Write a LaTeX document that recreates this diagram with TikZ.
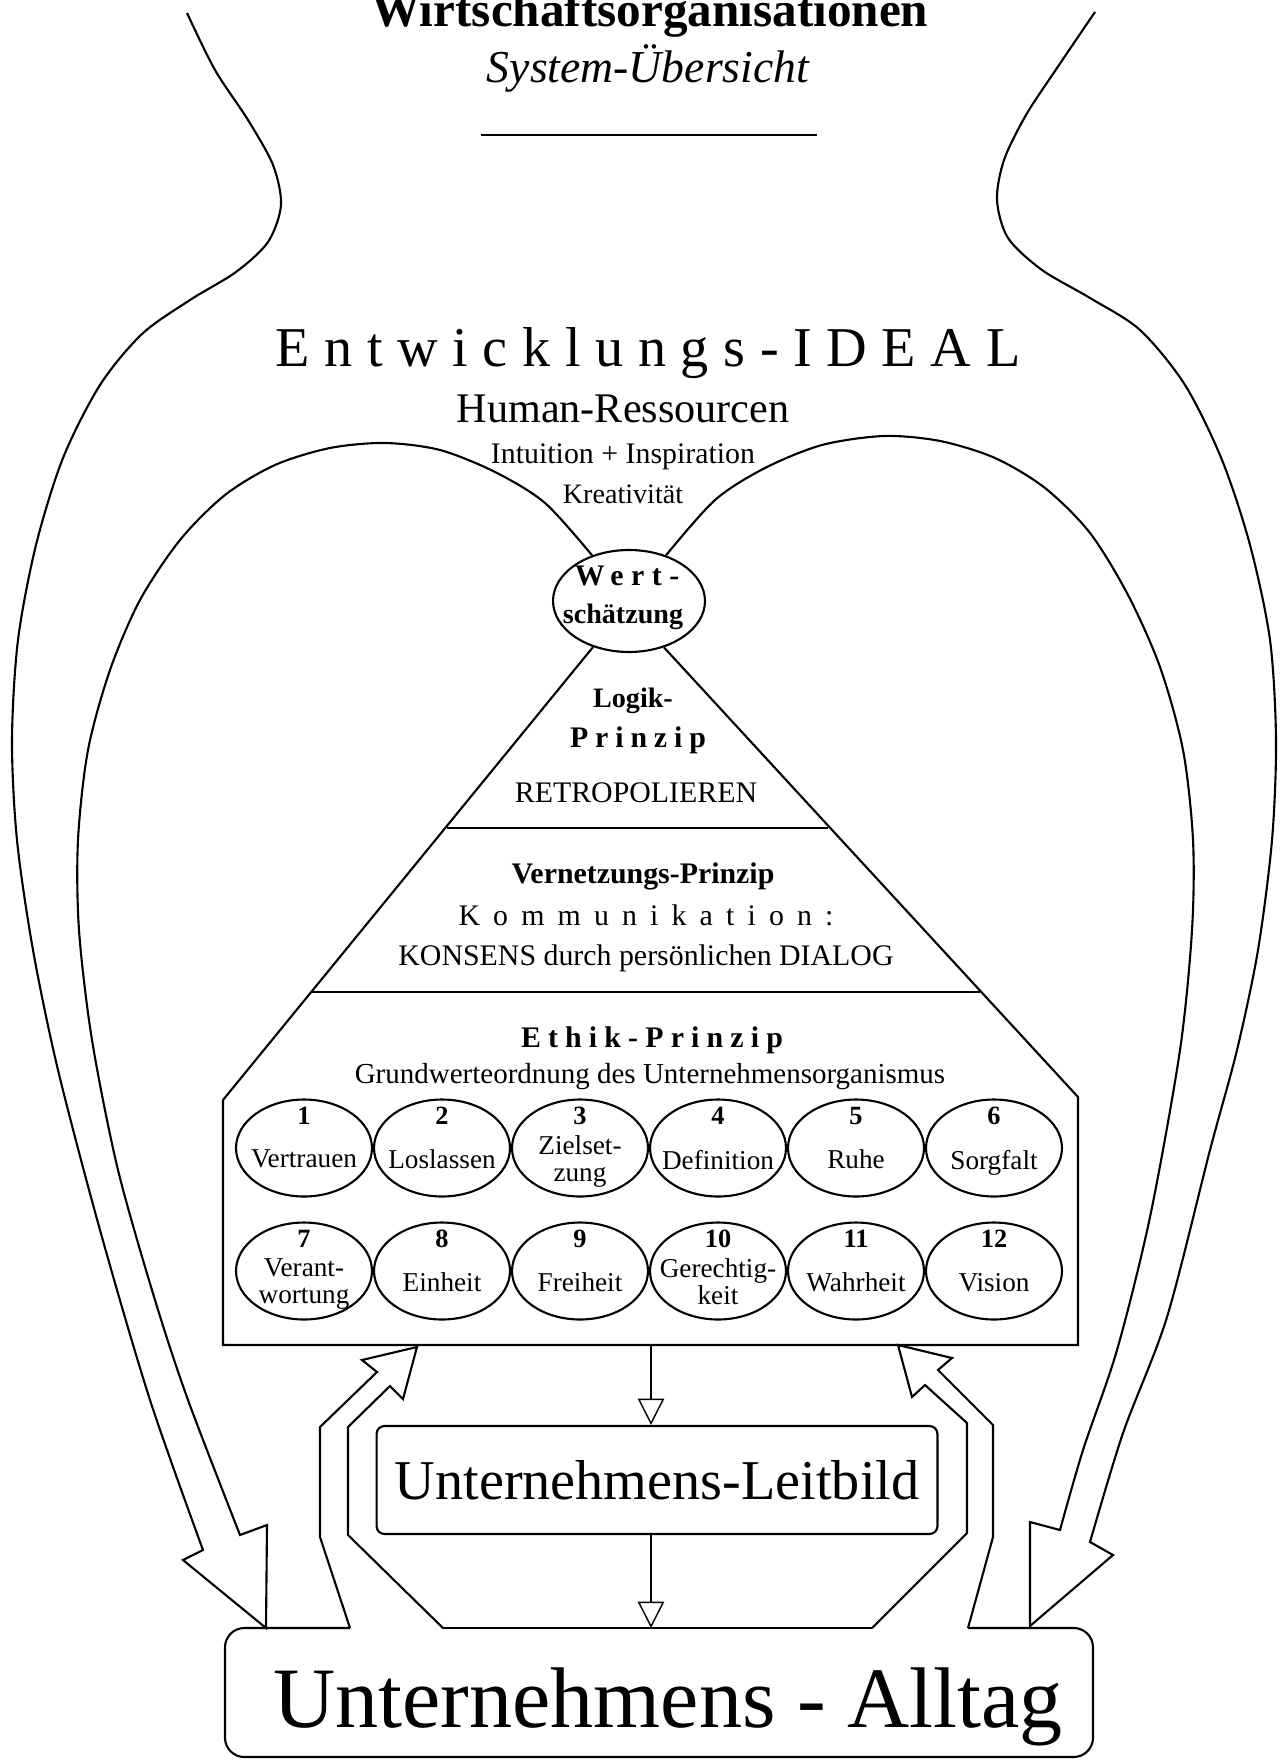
\documentclass[tikz,border=0pt]{standalone}
\usepackage{fontspec}
\setmainfont{Liberation Serif}
\usetikzlibrary{arrows.meta,calc,shapes.geometric}
\newcommand{\sz}[2]{\fontsize{#1}{#2}\selectfont}
\tikzset{
  txt/.style={anchor=base,inner sep=0pt},
  wertoval/.style={draw,ellipse,line width=1.2pt,minimum width=3.04cm,minimum height=2.04cm,inner sep=0pt},
  wertkreis/.style={draw,ellipse,line width=1.2pt,minimum width=2.72cm,minimum height=1.94cm,inner sep=0pt},
  pfeil/.style={line width=0.8pt,-{Triangle[open,length=15pt,width=15pt]}},
}

\begin{document}
\begin{tikzpicture}[x=0.02cm,y=-0.02cm,line width=1.2pt]
    \useasboundingbox (0,0) rectangle (1283,1763);

    % Kopf
    \node[txt,font=\sz{28}{30}\bfseries] (titel) at (650,27) {Wirtschaftsorganisationen};
    \node[txt,font=\sz{26}{30}\itshape] (untertitel) at (648,83) {System-Übersicht};
    \draw[line width=1pt] (481,135) -- (817,135);

    % Ideal
    \node[txt,font=\sz{32}{36}\addfontfeature{LetterSpace=26}] (ideal) at (648,367) {Entwicklungs-IDEAL};
    \node[txt,font=\sz{24}{27}] (human) at (623,422) {Human-Ressourcen};
    \node[txt,font=\sz{17}{20}] (intuition) at (623,463) {Intuition + Inspiration};
    \node[txt,font=\sz{16}{19}] (kreativ) at (623,503) {Kreativität};

    \node[wertoval] (wert) at (629,601) {};
    \node[txt,font=\sz{17}{20}\bfseries\addfontfeature{LetterSpace=25}] (wert1) at (627,585) {Wert-};
    \node[txt,font=\sz{16}{19}\bfseries] (wert2) at (623,623) {schätzung};

    % Pyramide
    \coordinate (lb) at (223,1100);
    \coordinate (rb) at (1078,1097);
    \draw (wert.232) -- (lb) -- (223,1345) -- (1078,1345) -- (rb) -- (wert.307);
    \draw (447,828) -- (828,828);
    \draw (312,992) -- (980,992);

    \node[txt,font=\sz{16}{19}\bfseries] (logik) at (633,707) {Logik-};
    \node[txt,font=\sz{17}{20}\bfseries\addfontfeature{LetterSpace=23}] (logikp) at (638,747) {Prinzip};
    \node[txt,font=\sz{17}{20}] (retro) at (636,802) {RETROPOLIEREN};
    \node[txt,font=\sz{17}{20}\bfseries] (vernetz) at (643,883) {Vernetzungs-Prinzip};
    \node[txt,font=\sz{17}{20}\addfontfeature{LetterSpace=44}] (kommu) at (646,925) {Kommunikation:};
    \node[txt,font=\sz{17}{20}] (konsens) at (646,965) {KONSENS durch persönlichen DIALOG};
    \node[txt,font=\sz{17}{20}\bfseries\addfontfeature{LetterSpace=24}] (ethik) at (652,1047) {Ethik-Prinzip};
    \node[txt,font=\sz{16.5}{19}] (grund) at (650,1083) {Grundwerteordnung des Unternehmensorganismus};

    % Grundwerte
    \foreach \i/\lab/\dy in {1/Vertrauen/1,2/Loslassen/1,3/{Zielset-\\zung}/-13,4/Definition/1,5/Ruhe/1,6/Sorgfalt/1} {
      \node[wertkreis] (v\i) at ({304+138*(\i-1)},1148) {};
      \node[txt,font=\sz{15}{18}\bfseries] (n\i) at ($(v\i)+(0,-24)$) {\i};
      \node[anchor=north,inner sep=0pt,align=center,font=\sz{15.5}{15}] (l\i) at ($(v\i)+(0,\dy)$) {\lab};
    }
    \foreach \i/\lab/\dy in {7/{Verant-\\wortung}/-13,8/Einheit/1,9/Freiheit/1,10/{Gerechtig-\\keit}/-13,11/Wahrheit/1,12/Vision/1} {
      \node[wertkreis] (v\i) at ({304+138*(\i-7)},1271) {};
      \node[txt,font=\sz{15}{18}\bfseries] (n\i) at ($(v\i)+(0,-24)$) {\i};
      \node[anchor=north,inner sep=0pt,align=center,font=\sz{15.5}{15}] (l\i) at ($(v\i)+(0,\dy)$) {\lab};
    }

    % Leitbild und Alltag
    \coordinate (ethikunten) at (651,1345);
    \coordinate (alltagoben) at (651,1628);
    \node[draw,rounded corners=4.5pt,minimum width=11.22cm,minimum height=2.16cm,inner sep=0pt,font=\sz{32}{36}] (leitbild) at (657,1480) {Unternehmens-Leitbild};
    \draw[pfeil] (ethikunten) -- (ethikunten |- leitbild.north);
    \draw[pfeil] (ethikunten |- leitbild.south) -- (alltagoben);

    \node[txt,font=\sz{49}{54}] (alltag) at (668,1727) {Unternehmens - Alltag};
    \draw[rounded corners=11pt] (350,1628) -- (225,1628) -- (225,1757) -- (1093,1757) -- (1093,1628) -- (968,1628);
    \draw (443,1628) -- (872,1628);

    % Rueckpfeile
    \draw (350,1628) -- (320,1537) -- (320,1427) -- (377,1372) -- (362,1360) -- (417,1347) -- (403,1399) -- (390,1386) -- (348,1427) -- (348,1535) -- (443,1628);
    \draw (872,1628) -- (967,1533) -- (967,1423) -- (925,1385) -- (912,1397) -- (898,1345) -- (952,1358) -- (938,1370) -- (993,1425) -- (993,1537) -- (968,1628);

    % Vase links
    \draw plot[smooth] coordinates {(187,13) (215,70) (248,120) (273,165) (281,205) (268,242) (236,272) (190,300) (142,334) (100,385) (63,458) (36,545) (18,640) (12,740) (17,840) (33,950) (58,1070) (100,1230) (150,1400) (203,1550)}
      -- (183,1560) -- (266,1628) -- (267,1525)
      -- plot[smooth] coordinates {(240,1535) (188,1400) (155,1300) (118,1170) (92,1040) (79,930) (78,840) (88,750) (110,670) (140,600) (180,540) (225,495) (275,465) (330,448) (385,443) (440,450) (495,472) (545,503) (wert.129)};

    % Vase rechts
    \draw plot[smooth] coordinates {(wert.51) (715,500) (765,468) (822,445) (884,436) (940,441) (995,458) (1045,488) (1090,533) (1128,595) (1160,667) (1183,750) (1193,840) (1192,930) (1180,1050) (1150,1217) (1117,1350) (1083,1450) (1060,1530)}
      -- (1030,1522) -- (1030,1626) -- (1113,1555)
      -- plot[smooth] coordinates {(1090,1542) (1123,1433) (1167,1317) (1210,1150) (1237,1050) (1258,950) (1272,840) (1276,740) (1270,640) (1250,545) (1222,460) (1185,385) (1140,330) (1090,298) (1042,270) (1008,238) (997,200) (1004,160) (1026,115) (1057,68) (1095,12)};
\end{tikzpicture}
\end{document}
